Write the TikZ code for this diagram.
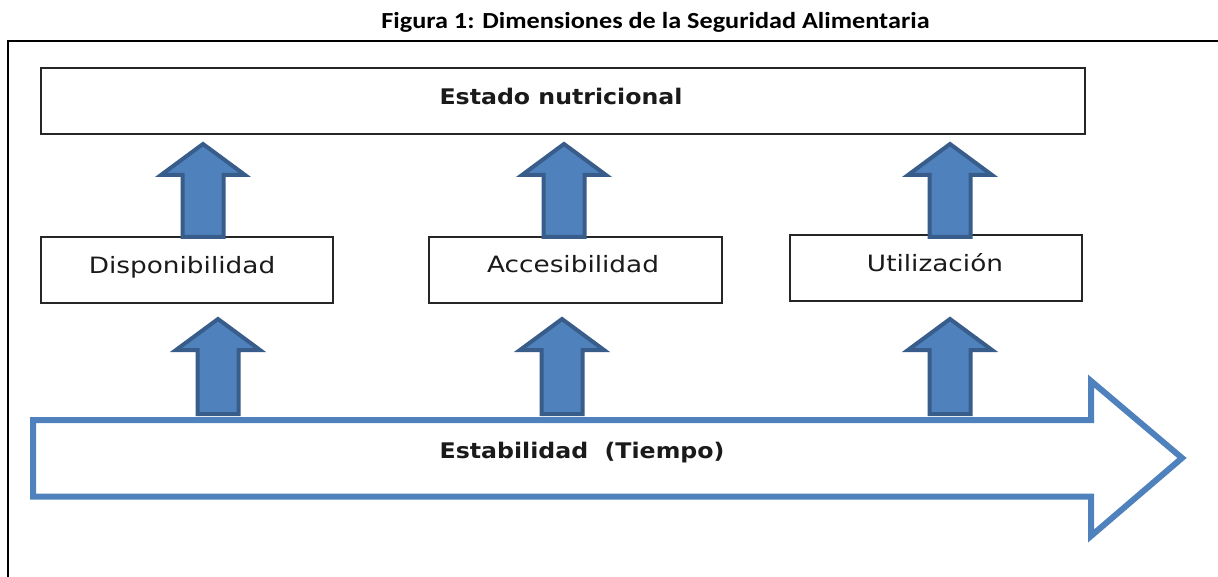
\documentclass[tikz,border=0pt]{standalone}
\usepackage{fontspec}
\setmainfont{DejaVu Sans}
\newfontfamily\labfont[FakeStretch=1.17]{DejaVu Sans}
\newfontfamily\headfont[FakeStretch=1.1]{DejaVu Sans}
\newfontfamily\titlefont[FakeStretch=1.14]{Carlito}
\usetikzlibrary{calc}
\definecolor{offblue}{HTML}{4F81BD}
\definecolor{offblueD}{HTML}{385D8A}
\definecolor{boxline}{HTML}{262626}
\definecolor{txt}{HTML}{1A1A1A}
\tikzset{
  box/.style={draw=boxline, line width=2pt, inner sep=0pt, outer sep=0pt, fill=white},
  lab/.style={font=\labfont\fontsize{22.5pt}{27pt}\selectfont, text=txt, anchor=base, inner sep=0pt},
  headlab/.style={font=\headfont\bfseries\fontsize{21.5pt}{26pt}\selectfont, text=txt, anchor=base, inner sep=0pt},
  titlelab/.style={font=\titlefont\bfseries\fontsize{23pt}{27pt}\selectfont, text=black, anchor=base, inner sep=0pt},
  blockarrow/.style={fill=offblue, draw=offblueD, line width=4pt, line join=miter},
  bigarrow/.style={draw=offblue, line width=6pt, fill=white, line join=miter},
  frameline/.style={draw=black, line width=2pt},
}
\newcommand\BlockUp[2]{%
  \draw[blockarrow] let \p1=(#1), \p2=(#2) in
    (\x1-20.5pt,\y1) -- (\x1-20.5pt,\y2-31pt) -- (\x1-42pt,\y2-31pt) -- (\x1,\y2)
    -- (\x1+42pt,\y2-31pt) -- (\x1+20.5pt,\y2-31pt) -- (\x1+20.5pt,\y1) -- cycle;}
\begin{document}
\begin{tikzpicture}[x=1pt,y=-1pt]
  \fill[white] (0,0) rectangle (1218,577);
  \useasboundingbox (0,0) rectangle (1218,577);

  % title and frame
  \node[titlelab] (title) at (655.5,29) {Figura 1: Dimensiones de la Seguridad Alimentaria};
  \draw[frameline] (8,577) -- (8,41) -- (1218,41);

  % boxes
  \node[box, minimum width=1044pt, minimum height=66pt] (estado) at (563,101) {};
  \node[box, minimum width=292pt, minimum height=66pt] (dispo) at (187,270) {};
  \node[box, minimum width=293pt, minimum height=66pt] (acces) at (575.5,270) {};
  \node[box, minimum width=292pt, minimum height=66pt] (util) at (936,268) {};

  % stability arrow
  \coordinate (stabtop) at (33,420);
  \draw[bigarrow] (stabtop) -- (1091,420) -- (1091,381) -- (1182,458)
     -- (1091,536) -- (1091,496.5) -- (33,496.5) -- cycle;

  % upper block arrows (boxes -> estado nutricional)
  \coordinate (d1b) at ($(dispo.north)+(16,0)$);
  \coordinate (d1t) at ($(d1b |- estado.south)+(0,10)$);
  \coordinate (a1b) at ($(acces.north)+(-11.5,0)$);
  \coordinate (a1t) at ($(a1b |- estado.south)+(0,10)$);
  \coordinate (u1b) at ($(util.north)+(14,2)$);
  \coordinate (u1t) at ($(u1b |- estado.south)+(0,10)$);
  \BlockUp{d1b}{d1t}
  \BlockUp{a1b}{a1t}
  \BlockUp{u1b}{u1t}

  % lower block arrows (stability -> boxes)
  \coordinate (d2b) at ($(stabtop -| dispo.south)+(31,-6)$);
  \coordinate (d2t) at ($(d2b |- dispo.south)+(0,16)$);
  \coordinate (a2b) at ($(stabtop -| acces.south)+(-13.5,-6)$);
  \coordinate (a2t) at ($(a2b |- acces.south)+(0,16)$);
  \coordinate (u2b) at ($(stabtop -| util.south)+(14,-6)$);
  \coordinate (u2t) at ($(u2b |- util.south)+(0,18)$);
  \BlockUp{d2b}{d2t}
  \BlockUp{a2b}{a2t}
  \BlockUp{u2b}{u2t}

  % labels
  \node[headlab] (estadoT) at (561,105) {Estado nutricional};
  \node[lab] (dispoT) at (182,274) {Disponibilidad};
  \node[lab] (accesT) at (573,273) {Accesibilidad};
  \node[lab] (utilT) at (935,272) {Utilización};
  \node[headlab] (stabT) at (582,458) {Estabilidad~~(Tiempo)};
\end{tikzpicture}
\end{document}
